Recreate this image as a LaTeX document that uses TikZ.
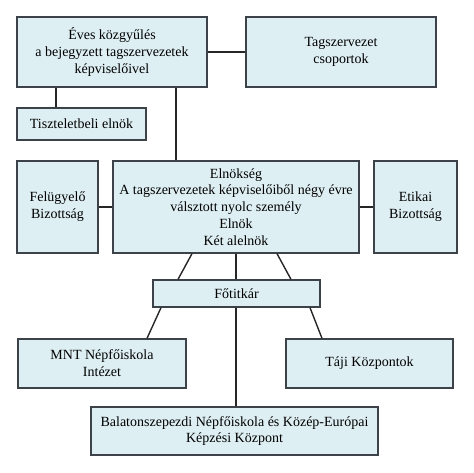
\documentclass[tikz,border=0pt]{standalone}
\usepackage{fontspec}
\setmainfont{Liberation Serif}
\usetikzlibrary{calc}
\definecolor{boxfill}{RGB}{222,239,244}
\definecolor{boxline}{RGB}{60,66,72}
\tikzset{
  box/.style={draw=boxline, fill=boxfill, line width=1.3pt, inner sep=0pt, align=center, font=\fontsize{14}{16.8}\selectfont},
  link/.style={line width=1.4pt, color=black!85}
}
\begin{document}
\begin{tikzpicture}[x=1pt,y=-1pt]
			%%%%% START %%%%%
			\useasboundingbox (0,0) rectangle (474,473);
			
			\node[box, minimum width=190pt, minimum height=70pt] (kozgyules) at (112,52) {Éves közgyűlés\\a bejegyzett tagszervezetek\\képviselőivel};
			\node[box, minimum width=190pt, minimum height=70pt] (csoportok) at (341,52) {Tagszervezet\\csoportok};
			\node[box, minimum width=129pt, minimum height=32pt] (diszelnok) at (81.5,124) {Tiszteletbeli elnök};
			
			\node[box, minimum width=81pt, minimum height=92pt] (felugyelo) at (57.5,207) {Felügyelő\\Bizottság};
			\node[box, minimum width=246pt, minimum height=92pt] (elnokseg) at (236,207) {Elnökség\\A tagszervezetek képviselőiből négy évre\\válsztott nyolc személy\\Elnök\\Két alelnök};
			\node[box, minimum width=83pt, minimum height=92pt] (etikai) at (415.5,207) {Etikai\\Bizottság};
			
			\node[box, minimum width=167pt, minimum height=27pt] (fotitkar) at (236.5,293.5) {Főtitkár};
			
			\node[box, minimum width=168pt, minimum height=49pt] (mnt) at (102,363.5) {MNT Népfőiskola\\Intézet};
			\node[box, minimum width=167pt, minimum height=49pt] (taji) at (369.5,363.5) {Táji Központok};
			\node[box, minimum width=287pt, minimum height=48pt] (balaton) at (234.5,431) {Balatonszepezdi Népfőiskola és Közép-Európai\\Képzési Központ};
			
			\coordinate (tx) at (56,0);
			\coordinate (ex) at (176,0);
			
			\draw[link] (kozgyules.east) -- (csoportok.west);
			\draw[link] (kozgyules.south -| tx) -- (diszelnok.north -| tx);
			\draw[link] (kozgyules.south -| ex) -- (elnokseg.north -| ex);
			
			\draw[link] (felugyelo.east) -- (elnokseg.west);
			\draw[link] (elnokseg.east) -- (etikai.west);
			
			\draw[link] ($(elnokseg.south)+(-44,0)$) -- ($(fotitkar.north)+(-58.5,0)$);
			\draw[link] (elnokseg.south) -- (elnokseg.south |- fotitkar.north);
			\draw[link] ($(elnokseg.south)+(41,0)$) -- ($(fotitkar.north)+(54.5,0)$);
			
			\draw[link] ($(fotitkar.south)+(-75.5,0)$) -- ($(mnt.north)+(45,0)$);
			\draw[link] (fotitkar.south -| elnokseg.south) -- (balaton.north -| elnokseg.south);
			\draw[link] ($(fotitkar.south)+(73.5,0)$) -- ($(taji.north)+(-47.5,0)$);
			
			%%%%% END %%%%%
\end{tikzpicture}
\end{document}
